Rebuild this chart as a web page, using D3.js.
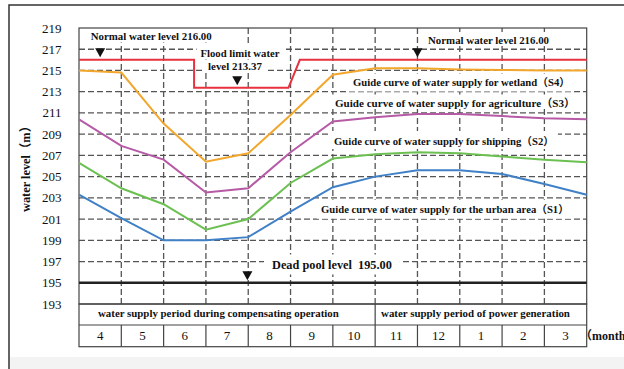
<!DOCTYPE html>
<html>
<head>
<meta charset="utf-8">
<script src="https://cdn.jsdelivr.net/npm/d3@7"></script>
<style>
  html, body { margin: 0; padding: 0; background: #fff; }
  svg { display: block; }
  text { font-family: "Times New Roman", "Liberation Serif", "DejaVu Serif", "Noto Sans CJK SC", serif; fill: #111; }
  .b { font-weight: bold; }
</style>
</head>
<body>
<svg id="chart" width="624" height="369"></svg>
<script>
// Month columns (April to next March) and boundary positions 0..12
const months = ["4", "5", "6", "7", "8", "9", "10", "11", "12", "1", "2", "3"];
const boundaries = [0, 1, 2, 3, 4, 5, 6, 7, 8, 9, 10, 11, 12];
const yTicks = [193, 195, 197, 199, 201, 203, 205, 207, 209, 211, 213, 215, 217, 219];

// Guide curves (water level, m) at each month boundary
const wetlandS4     = [215.0, 214.8, 210.0, 206.4, 207.2, 210.8, 214.6, 215.2, 215.2, 215.1, 215.05, 215.0, 215.0];
const agricultureS3 = [210.4, 207.9, 206.6, 203.5, 203.9, 207.3, 210.2, 210.6, 210.9, 210.9, 210.7, 210.5, 210.4];
const shippingS2    = [206.3, 203.9, 202.4, 200.0, 201.0, 204.4, 206.7, 207.1, 207.3, 207.2, 206.9, 206.6, 206.35];
const urbanS1       = [203.3, 201.1, 199.0, 199.0, 199.3, 201.7, 204.0, 205.0, 205.6, 205.6, 205.25, 204.3, 203.3];

// Normal / flood limit water level (position in months, level)
const limitT = [0, 2.72, 2.72, 4.95, 5.22, 12];
const limitV = [216.0, 216.0, 213.37, 213.37, 216.0, 216.0];
const deadPool = 195.0;

// Marker triangles: [position in months, level]
const markers = [[0.5, 216.0], [3.74, 213.37], [8.0, 216.0], [3.98, 195.0]];

const periods = ["water supply period during compensating operation", "water supply period of power generation"];

const svg = d3.select("#chart");
const L = 79, R = 586.7, T = 28, B = 304;
const x = d3.scaleLinear().domain([0, 12]).range([L, R]);
const y = d3.scaleLinear().domain([193, 219]).range([B, T]);

// sets a text's font size so that it spans the given width
function fit(sel, w) {
  const n = sel.node();
  const cur = parseFloat(sel.attr("font-size"));
  const len = n.getComputedTextLength();
  if (len > 0) sel.attr("font-size", (cur * w / len).toFixed(2));
  return sel;
}

// outer frame and bottom band
svg.append("rect").attr("x", 10).attr("y", 357).attr("width", 614).attr("height", 12).attr("fill", "#f3f3f3");
svg.append("path").attr("d", `M9,369 V5 H624`).attr("fill", "none").attr("stroke", "#333").attr("stroke-width", 1.5);

// grid
const grid = svg.append("g").attr("stroke", "#555").attr("stroke-width", 1.3).attr("stroke-dasharray", "6,3");
grid.selectAll(".h").data(yTicks.filter(v => v > 195 && v < 219)).join("line")
  .attr("x1", L).attr("x2", R).attr("y1", d => y(d)).attr("y2", d => y(d));
grid.selectAll(".v").data(boundaries.slice(1, 12)).join("line")
  .attr("x1", d => x(d)).attr("x2", d => x(d)).attr("y1", T).attr("y2", B);

// labels with white boxes hiding the grid behind them
const labels = [
  { t: "Normal water level 216.00", x: 90.7, y: 39.5, w: 121, a: "start", pt: 2, pb: 1 },
  { t: "Flood limit water", x: 240, y: 57, w: 79, a: "middle", pt: 2, pb: 0 },
  { t: "level 213.37", x: 235, y: 69.5, w: 54, a: "middle", pt: 0, pb: 1 },
  { t: "Normal water level 216.00", x: 428, y: 44, w: 121, a: "start", pt: 2, pb: 0 },
  { t: "Guide curve of water supply for wetland（S4）", x: 353, y: 85.5, w: 217, a: "start", pt: 2, pb: 4 },
  { t: "Guide curve of water supply for agriculture（S3）", x: 335, y: 106.5, w: 240, a: "start", pt: 2, pb: 0 },
  { t: "Guide curve of water supply for shipping（S2）", x: 334, y: 145, w: 220, a: "start", pt: 4, pb: 2 },
  { t: "Guide curve of water supply for the urban area（S1）", x: 321, y: 212.7, w: 248, a: "start", pt: 3, pb: 4 },
  { t: "Dead pool level  195.00", x: 272, y: 268.5, w: 120, a: "start", pt: 3, pb: 3, ph: 8 }
];
const boxG = svg.append("g");

// plot border
svg.append("rect").attr("x", L).attr("y", T).attr("width", R - L).attr("height", B - T)
  .attr("fill", "none").attr("stroke", "#444").attr("stroke-width", 1.2);

// dead pool level
svg.append("line").attr("x1", L).attr("x2", R).attr("y1", y(deadPool)).attr("y2", y(deadPool))
  .attr("stroke", "#222").attr("stroke-width", 2.4);

const curveG = svg.append("g");
const textG = svg.append("g");
labels.forEach(l => {
  const t = textG.append("text").attr("class", "b").attr("x", l.x).attr("y", l.y)
    .attr("text-anchor", l.a).attr("font-size", 11).attr("xml:space", "preserve").text(l.t);
  fit(t, l.w);
  const bb = t.node().getBBox();
  const ph = l.ph || 4;
  boxG.append("rect").attr("x", bb.x - ph).attr("y", bb.y - l.pt)
    .attr("width", bb.width + 2 * ph).attr("height", bb.height + l.pt + l.pb).attr("fill", "#fff");
});

// curves
const line = d3.line().x(d => x(d[0])).y(d => y(d[1]));
const curves = [
  [wetlandS4, "#f2a72c"],
  [agricultureS3, "#b65aa6"],
  [shippingS2, "#6cc052"],
  [urbanS1, "#3f80c6"]
];
curves.forEach(([vals, c]) => {
  curveG.append("path").datum(boundaries.map((b, i) => [b, vals[i]])).attr("d", line)
    .attr("fill", "none").attr("stroke", c).attr("stroke-width", 2);
});
curveG.append("path").datum(limitT.map((t, i) => [t, limitV[i]])).attr("d", line)
  .attr("fill", "none").attr("stroke", "#e8323f").attr("stroke-width", 2);

// markers
curveG.selectAll(".m").data(markers).join("path")
  .attr("d", d => {
    const cx = x(d[0]), tip = y(d[1]) - 2.5;
    return `M${cx - 5},${tip - 9} H${cx + 5} L${cx},${tip} Z`;
  }).attr("fill", "#111");

// y-axis labels
svg.append("g").selectAll("text").data(yTicks).join("text")
  .attr("x", 61.5).attr("y", d => y(d) + 4.5).attr("text-anchor", "end").attr("font-size", 13)
  .text(d => d);
fit(svg.append("text").attr("class", "b").attr("font-size", 11).attr("text-anchor", "middle")
  .attr("transform", "translate(30,166) rotate(-90)").text("water level（m）"), 92);

// table below the plot
const r1 = B, r2 = 325, r3 = 346.7;
const tbl = svg.append("g").attr("stroke", "#444").attr("stroke-width", 1.2).attr("fill", "none");
tbl.append("rect").attr("x", L).attr("y", r1).attr("width", R - L).attr("height", r3 - r1);
tbl.append("line").attr("x1", L).attr("x2", R).attr("y1", r2).attr("y2", r2);
tbl.append("line").attr("x1", x(7)).attr("x2", x(7)).attr("y1", r1).attr("y2", r2);
tbl.selectAll(".c").data(boundaries.slice(1, 12)).join("line")
  .attr("x1", d => x(d)).attr("x2", d => x(d)).attr("y1", r2).attr("y2", r3);

fit(svg.append("text").attr("class", "b").attr("font-size", 11).attr("x", 98).attr("y", 316.5).text(periods[0]), 241);
fit(svg.append("text").attr("class", "b").attr("font-size", 11).attr("x", 381).attr("y", 316.5).text(periods[1]), 189);
svg.append("g").selectAll("text").data(months).join("text")
  .attr("x", (d, i) => x(i + 0.5)).attr("y", 340).attr("text-anchor", "middle").attr("font-size", 13)
  .text(d => d);
svg.append("text").attr("class", "b").attr("font-size", 12).attr("x", 580).attr("y", 340).text("（month）");
</script>
</body>
</html>
